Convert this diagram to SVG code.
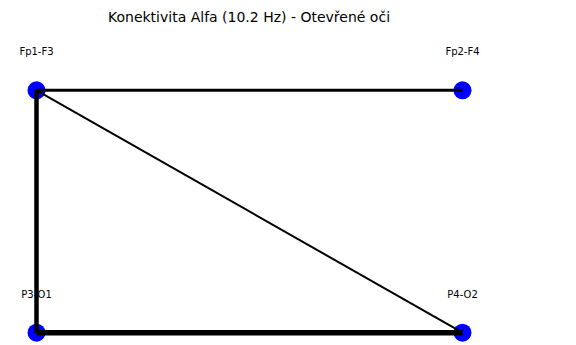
<svg xmlns="http://www.w3.org/2000/svg" width="576" height="345" viewBox="0 0 576 345">
<style>
.lbl{font-family:"DejaVu Sans",sans-serif;font-size:10px;fill:#000;text-anchor:middle}
.title{font-family:"DejaVu Sans",sans-serif;font-size:14px;fill:#000;text-anchor:middle}
.node{fill:#0000ff}
.edge{stroke:#000;stroke-linecap:butt;fill:none}
</style>
<rect width="576" height="345" fill="#fff"/>
<text class="title" x="249" y="22">Konektivita Alfa (10.2 Hz) - Otevřené oči</text>
<g id="node-Fp1-F3"><circle class="node" cx="36.5" cy="90.3" r="9"/><text class="lbl" x="36.5" y="55">Fp1-F3</text></g>
<g id="node-Fp2-F4"><circle class="node" cx="462.5" cy="90.3" r="9"/><text class="lbl" x="462.5" y="55">Fp2-F4</text></g>
<g id="node-P3-O1"><circle class="node" cx="36.5" cy="332.7" r="9"/><text class="lbl" x="36.5" y="298">P3-O1</text></g>
<g id="node-P4-O2"><circle class="node" cx="462.5" cy="332.7" r="9"/><text class="lbl" x="462.5" y="298">P4-O2</text></g>
<g id="connectors">
<line class="edge" x1="36.5" y1="90.3" x2="462.5" y2="90.3" stroke-width="3"/>
<line class="edge" x1="36.5" y1="90.3" x2="36.5" y2="332.7" stroke-width="4.5"/>
<line class="edge" x1="36.5" y1="332.7" x2="462.5" y2="332.7" stroke-width="5.5"/>
<line class="edge" x1="36.5" y1="90.3" x2="462.5" y2="332.7" stroke-width="2"/>
</g>
</svg>
